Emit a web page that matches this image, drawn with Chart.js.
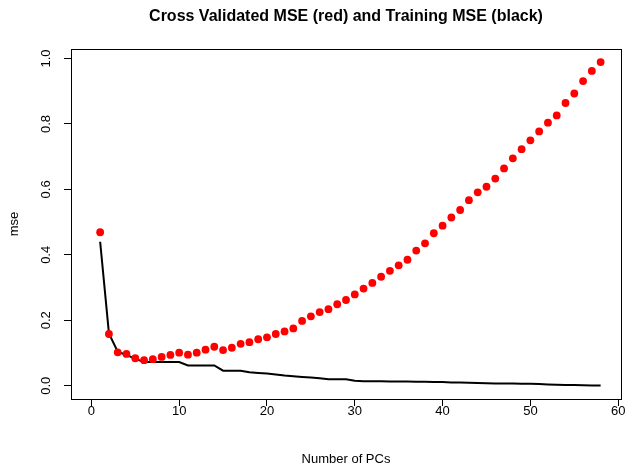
<!DOCTYPE html>
<html>
<head>
<meta charset="utf-8">
<script src="https://cdn.jsdelivr.net/npm/chart.js@4/dist/chart.umd.min.js"></script>
<style>
  html, body { margin: 0; padding: 0; background: #fff; }
  #wrap { width: 627px; height: 464px; }
</style>
</head>
<body>
<div id="wrap"><canvas id="c" width="627" height="464"></canvas></div>
<script>
// Number of principal components used in each fit
const pcs = [1, 2, 3, 4, 5, 6, 7, 8, 9, 10, 11, 12, 13, 14, 15, 16, 17, 18, 19, 20,
             21, 22, 23, 24, 25, 26, 27, 28, 29, 30, 31, 32, 33, 34, 35, 36, 37, 38, 39, 40,
             41, 42, 43, 44, 45, 46, 47, 48, 49, 50, 51, 52, 53, 54, 55, 56, 57, 58];

// Cross-validated mean squared error
const cvMse = [0.469, 0.158, 0.102, 0.097, 0.084, 0.078, 0.081, 0.088, 0.094, 0.101,
               0.095, 0.101, 0.110, 0.119, 0.109, 0.116, 0.128, 0.133, 0.142, 0.148,
               0.158, 0.166, 0.175, 0.198, 0.212, 0.225, 0.234, 0.249, 0.262, 0.279,
               0.297, 0.314, 0.333, 0.351, 0.368, 0.385, 0.413, 0.435, 0.466, 0.489,
               0.514, 0.537, 0.567, 0.591, 0.608, 0.633, 0.664, 0.695, 0.723, 0.750,
               0.777, 0.804, 0.826, 0.864, 0.893, 0.931, 0.962, 0.989];

// Training mean squared error
const trainMse = [0.440, 0.160, 0.104, 0.094, 0.082, 0.0725, 0.0725, 0.0725, 0.0725, 0.0725,
                  0.062, 0.062, 0.062, 0.062, 0.046, 0.046, 0.046, 0.041, 0.039, 0.037,
                  0.034, 0.031, 0.029, 0.027, 0.025, 0.023, 0.020, 0.020, 0.020, 0.015,
                  0.014, 0.014, 0.0135, 0.013, 0.013, 0.0125, 0.012, 0.012, 0.0115, 0.011,
                  0.010, 0.0095, 0.009, 0.008, 0.0075, 0.007, 0.007, 0.0065, 0.006, 0.006,
                  0.005, 0.004, 0.003, 0.0025, 0.002, 0.0015, 0.001, 0.0005];

const xTicks = [0, 10, 20, 30, 40, 50, 60];
const yTicks = [0.0, 0.2, 0.4, 0.6, 0.8, 1.0];

const FONT = "'Liberation Sans', Arial, Helvetica, sans-serif";

// Frame around the plotting region
const plotBox = {
  id: 'plotBox',
  afterDraw(chart) {
    const { ctx, chartArea: a } = chart;
    ctx.save();
    ctx.strokeStyle = '#000';
    ctx.lineWidth = 1;
    ctx.strokeRect(Math.round(a.left) + 0.5, Math.round(a.top) + 0.5,
                   Math.round(a.right - a.left), Math.round(a.bottom - a.top));
    ctx.restore();
  }
};

new Chart(document.getElementById('c'), {
  type: 'scatter',
  data: {
    datasets: [
      {
        label: 'CV MSE',
        data: pcs.map((p, i) => ({ x: p, y: cvMse[i] })),
        showLine: false,
        pointRadius: 3.9,
        pointHoverRadius: 3.9,
        pointBorderWidth: 0,
        backgroundColor: '#ff0000',
        borderColor: '#ff0000'
      },
      {
        label: 'Training MSE',
        data: pcs.map((p, i) => ({ x: p, y: trainMse[i] })),
        showLine: true,
        pointRadius: 0,
        borderColor: '#000000',
        borderWidth: 2,
        tension: 0
      }
    ]
  },
  options: {
    responsive: false,
    animation: false,
    devicePixelRatio: 1,
    layout: { padding: { left: 0, right: 6, top: 0, bottom: 0 } },
    plugins: {
      legend: { display: false },
      tooltip: { enabled: false },
      title: {
        display: true,
        fullSize: false,
        text: 'Cross Validated MSE (red) and Training MSE (black)',
        color: '#000',
        font: { family: FONT, size: 16, weight: 'bold', lineHeight: 1.2 },
        padding: { top: 7, bottom: 22.8 }
      }
    },
    scales: {
      x: {
        type: 'linear',
        min: -2.32,
        max: 60.32,
        afterBuildTicks: s => { s.ticks = xTicks.map(v => ({ value: v })); },
        afterFit: s => { s.height = 65; },
        border: { display: false },
        grid: { drawOnChartArea: false, drawTicks: true, tickLength: 7, color: '#000' },
        ticks: {
          color: '#000', font: { family: FONT, size: 13 }, padding: -2,
          maxRotation: 0, autoSkip: false,
          callback: v => String(v)
        },
        title: {
          display: true, text: 'Number of PCs', color: '#000',
          font: { family: FONT, size: 13, lineHeight: 1.2 },
          padding: { top: 0, bottom: -3 }
        }
      },
      y: {
        type: 'linear',
        min: -0.0406,
        max: 1.029,
        afterBuildTicks: s => { s.ticks = yTicks.map(v => ({ value: v })); },
        afterFit: s => { s.width = 71; },
        border: { display: false },
        grid: { drawOnChartArea: false, drawTicks: true, tickLength: 7, color: '#000' },
        ticks: {
          color: '#000', font: { family: FONT, size: 13 }, padding: 9,
          minRotation: 90, maxRotation: 90, crossAlign: 'center', autoSkip: false,
          callback: v => v.toFixed(1)
        },
        title: {
          display: true, text: 'mse', color: '#000',
          font: { family: FONT, size: 13, lineHeight: 1.2 },
          padding: { top: 7, bottom: 0 }
        }
      }
    }
  },
  plugins: [plotBox]
});
</script>
</body>
</html>
